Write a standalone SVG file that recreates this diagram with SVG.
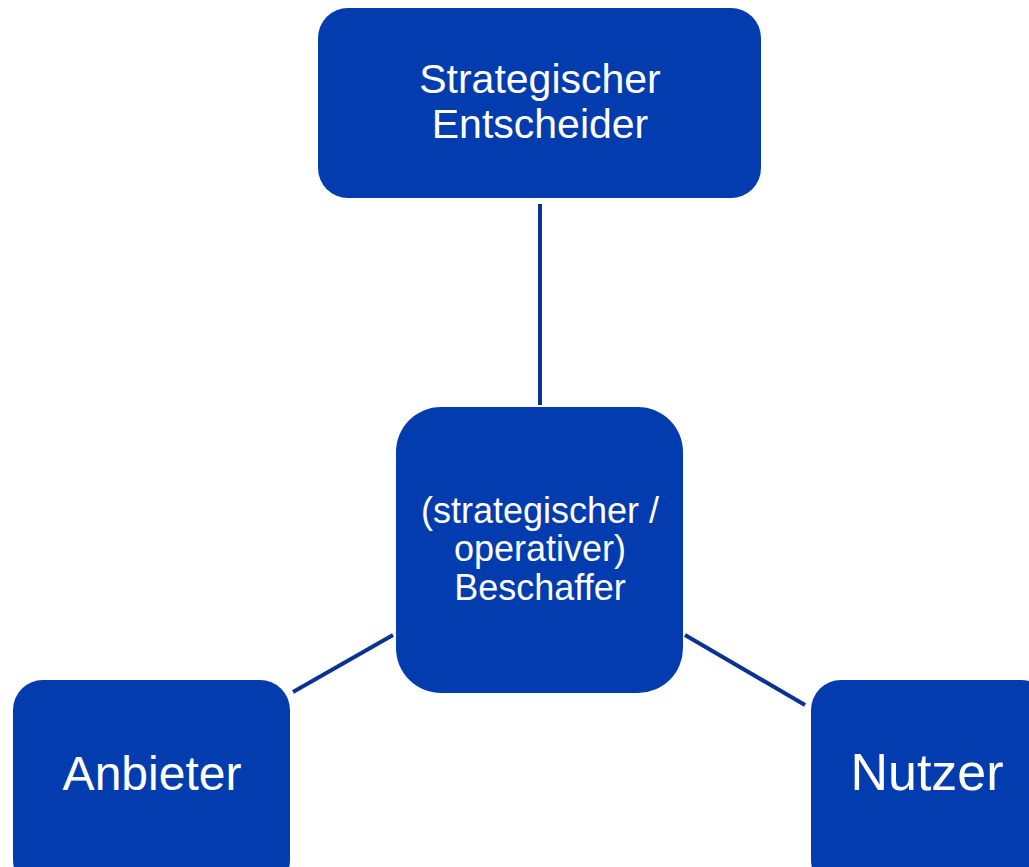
<svg xmlns="http://www.w3.org/2000/svg" width="1029" height="867" viewBox="0 0 1029 867">
<style>
.node{fill:#033cae;}
.lbl{fill:#ffffff;font-family:"Liberation Sans",Arial,sans-serif;text-anchor:middle;}
.conn{stroke:#0a3290;stroke-width:4;fill:none;}
</style>
<rect width="1029" height="867" fill="#ffffff"/>
<g id="connectors">
<line class="conn" x1="540" y1="204" x2="540" y2="405"/>
<line class="conn" x1="293" y1="692" x2="393" y2="635"/>
<line class="conn" x1="685" y1="635" x2="805" y2="705"/>
</g>
<g id="node-entscheider">
<rect class="node" x="318" y="8" width="443" height="190" rx="30"/>
<text class="lbl" x="540" y="93" font-size="41">Strategischer</text>
<text class="lbl" x="540" y="138" font-size="41">Entscheider</text>
</g>
<g id="node-beschaffer">
<rect class="node" x="396" y="407" width="287" height="286" rx="45"/>
<text class="lbl" x="540" y="523" font-size="36">(strategischer /</text>
<text class="lbl" x="540" y="561" font-size="36">operativer)</text>
<text class="lbl" x="540" y="600" font-size="36">Beschaffer</text>
</g>
<g id="node-anbieter">
<rect class="node" x="13" y="680" width="277" height="210" rx="30"/>
<text class="lbl" x="152" y="790" font-size="48">Anbieter</text>
</g>
<g id="node-nutzer">
<rect class="node" x="811" y="680" width="240" height="210" rx="30"/>
<text class="lbl" x="927" y="790" font-size="52">Nutzer</text>
</g>
</svg>
